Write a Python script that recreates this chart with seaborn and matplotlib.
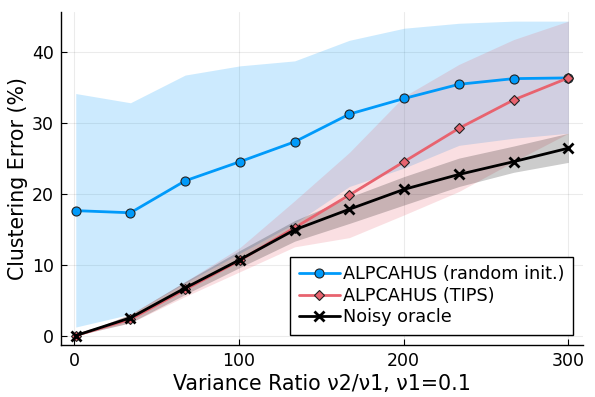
import numpy as np
import pandas as pd
import matplotlib
matplotlib.use("Agg")
import matplotlib.pyplot as plt
import seaborn as sns

# ---- data ----
x = [1, 34.2, 67.4, 100.7, 133.9, 167.1, 200.3, 233.6, 266.8, 300]

rand_mean = [17.6, 17.3, 21.8, 24.5, 27.3, 31.2, 33.4, 35.4, 36.2, 36.3]
rand_lo = [1.2, 3.0, 7.4, 11.6, 15.8, 21.0, 23.6, 26.8, 27.8, 28.5]
rand_hi = [34.1, 32.8, 36.7, 38.0, 38.7, 41.6, 43.3, 44.0, 44.3, 44.3]

tips_mean = [0.0, 2.3, 6.5, 10.6, 15.2, 19.8, 24.5, 29.2, 33.2, 36.3]
tips_lo = [0.0, 1.8, 5.5, 9.0, 12.5, 13.8, 17.0, 20.3, 24.5, 28.5]
tips_hi = [0.0, 3.0, 7.6, 12.4, 19.0, 25.8, 33.7, 38.2, 41.7, 44.3]

orc_mean = [0.0, 2.5, 6.7, 10.7, 14.9, 17.8, 20.6, 22.7, 24.5, 26.4]
orc_lo = [0.0, 1.8, 5.8, 9.6, 13.3, 15.8, 18.4, 21.0, 23.0, 24.4]
orc_hi = [0.0, 3.0, 7.6, 12.0, 16.2, 19.5, 22.4, 25.0, 26.7, 28.5]

labels = ["ALPCAHUS (random init.)", "ALPCAHUS (TIPS)", "Noisy oracle"]
colors = ["#009AFA", "#E8636F", "#000000"]
xticks = [0, 100, 200, 300]
yticks = [0, 10, 20, 30, 40]
xlabel = "Variance Ratio \u03bd2/\u03bd1, \u03bd1=0.1"
ylabel = "Clustering Error (%)"

sns.set_theme(style="white")
plt.rcParams["font.family"] = ["DejaVu Sans"]
plt.rcParams["text.color"] = "#000000"
plt.rcParams["axes.labelcolor"] = "#000000"

fig = plt.figure(figsize=(5.95, 3.97), dpi=100)
ax = fig.add_axes([0.1025, 0.131, 0.8775, 0.839])

means = [rand_mean, tips_mean, orc_mean]
los = [rand_lo, tips_lo, orc_lo]
his = [rand_hi, tips_hi, orc_hi]
markers = ["o", "D", "X"]
msizes = [6.5, 4.8, 7.5]

for lo, hi, c in zip(los, his, colors):
    ax.fill_between(x, lo, hi, color=c, alpha=0.2, linewidth=0)

frames = []
for lab, m in zip(labels, means):
    frames.append(pd.DataFrame({"x": x, "y": m, "method": lab}))
df = pd.concat(frames, ignore_index=True)

for lab, c, mk, ms in zip(labels, colors, markers, msizes):
    sub = df[df["method"] == lab]
    if mk == "X":
        sns.lineplot(data=sub, x="x", y="y", ax=ax, color=c, linewidth=2.0,
                     marker="x", markersize=ms, markeredgewidth=2.0,
                     markeredgecolor=c, label=lab)
    else:
        sns.lineplot(data=sub, x="x", y="y", ax=ax, color=c, linewidth=2.0,
                     marker=mk, markersize=ms, markeredgewidth=0.8,
                     markeredgecolor="#222222", label=lab)

ax.set_xlim(-7.97, 308.97)
ax.set_ylim(-1.33, 45.6)
ax.set_xticks(xticks)
ax.set_yticks(yticks)
ax.grid(True, color="#000000", alpha=0.08, linewidth=0.8)
for s in ["top", "right"]:
    ax.spines[s].set_visible(False)
for s in ["left", "bottom"]:
    ax.spines[s].set_color("#000000")
    ax.spines[s].set_linewidth(1.0)
ax.tick_params(axis="both", direction="in", length=4, width=0.8,
               colors="#000000", labelcolor="#000000", labelsize=12.5, pad=5,
               bottom=True, left=True)
ax.set_xlabel(xlabel, fontsize=14.8, labelpad=3, color="#000000")
ax.set_ylabel(ylabel, fontsize=14.8, labelpad=3, color="#000000")

leg = ax.legend(loc="lower right", fontsize=12.7, frameon=True, fancybox=False,
                edgecolor="#000000", framealpha=1.0, borderpad=0.5,
                handlelength=2.3, handletextpad=0.2, labelspacing=0.2,
                borderaxespad=0.55)
leg.get_frame().set_linewidth(1.0)
for t in leg.get_texts():
    t.set_color("#000000")

fig.savefig("out.png", dpi=100)
